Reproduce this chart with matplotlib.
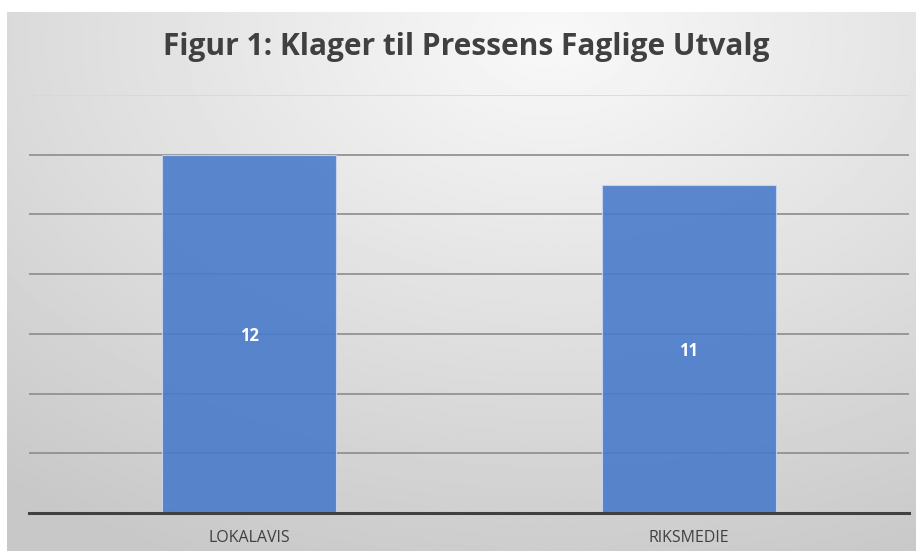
import matplotlib.pyplot as plt
import numpy as np

# data
categories = ['LOKALAVIS', 'RIKSMEDIE']
klager = [12, 11]
y_ticks = [0, 2, 4, 6, 8, 10, 12, 14]

fig = plt.figure(figsize=(9.16, 5.51), dpi=100)

# gradient background (radial, light near top centre)
bg = fig.add_axes([7/916, 0, 909/916, 539/551])
bg.set_axis_off()
yy, xx = np.mgrid[0:1:300j, 0:1:500j]
r = np.sqrt(((xx - 0.6) * 1.0) ** 2 + ((yy - 0.05) * 0.9) ** 2)
r = np.clip(r / 0.95, 0, 1)
shade = 0.975 - 0.19 * r
bg.imshow(shade, cmap='gray', vmin=0, vmax=1, aspect='auto',
          extent=[0, 1, 1, 0], interpolation='bilinear')
bg.set_xlim(0, 1)
bg.set_ylim(1, 0)

ax = fig.add_axes([29/916, 38/551, 880/916, 418/551])
ax.patch.set_alpha(0)

x = np.arange(len(categories))
bars = ax.bar(x, klager, width=0.395, color='#4a7bca', alpha=0.9,
              edgecolor='#c9d6ee', linewidth=0.8, zorder=3)

for xi, v in zip(x, klager):
    ax.text(xi, v / 2 - 0.08, str(v), ha='center', va='center', color='white',
            fontsize=12, fontweight='bold', family='Open Sans', zorder=4)

ax.set_xlim(-0.5, 1.5)
ax.set_ylim(0, 14)
ax.set_yticks(y_ticks)
ax.yaxis.grid(True, color='#8c8c8c', linewidth=1.2, zorder=1)
ax.set_axisbelow(True)
ax.get_ygridlines()[-1].set_color('#d8d8d8')
ax.tick_params(axis='y', left=False, labelleft=False)
ax.tick_params(axis='x', bottom=False, pad=9)
ax.set_xticks(x)
ax.set_xticklabels(categories, fontsize=11.5, color='#404040', family='Open Sans')

for s in ['top', 'right', 'left']:
    ax.spines[s].set_visible(False)
ax.spines['bottom'].set_color('#404040')
ax.spines['bottom'].set_linewidth(2.2)
ax.spines['bottom'].set_zorder(5)

fig.text(466/916, 1 - 47/551, 'Figur 1: Klager til Pressens Faglige Utvalg',
         ha='center', va='center', fontsize=21.5, fontweight='bold',
         color='#404040', family='Open Sans')

plt.savefig('out.png', dpi=100, facecolor='white')
